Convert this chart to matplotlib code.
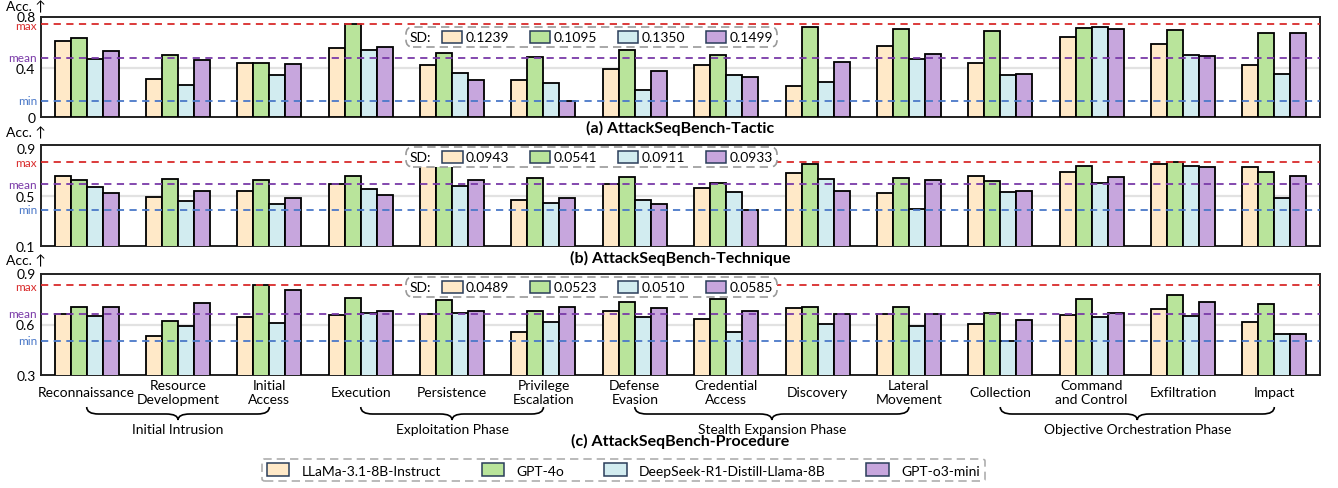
import numpy as np
import matplotlib
matplotlib.use("Agg")
import matplotlib.pyplot as plt
from matplotlib.patches import Patch, Rectangle, PathPatch
from matplotlib.path import Path
from matplotlib.offsetbox import AnchoredOffsetbox, HPacker, TextArea, DrawingArea
import matplotlib.transforms as mtransforms

plt.rcParams['font.family'] = ['Lato', 'DejaVu Sans']

# ---------------- data ----------------
categories = ["Reconnaissance", "Resource\nDevelopment", "Initial\nAccess", "Execution",
              "Persistence", "Privilege\nEscalation", "Defense\nEvasion", "Credential\nAccess",
              "Discovery", "Lateral\nMovement", "Collection", "Command\nand Control",
              "Exfiltration", "Impact"]
models = ["LLaMa-3.1-8B-Instruct", "GPT-4o", "DeepSeek-R1-Distill-Llama-8B", "GPT-o3-mini"]
colors = ["#FFE9C8", "#B9E49B", "#D2ECF0", "#C7A6DD"]

phases = ["Initial Intrusion", "Exploitation Phase", "Stealth Expansion Phase",
          "Objective Orchestration Phase"]
phase_start = [0, 3, 6, 10]
phase_end = [2, 5, 9, 13]

tactic_llama = [0.623, 0.308, 0.443, 0.563, 0.427, 0.302, 0.389, 0.422, 0.253, 0.582, 0.443, 0.650, 0.598, 0.422]
tactic_gpt4o = [0.645, 0.503, 0.438, 0.759, 0.522, 0.492, 0.547, 0.503, 0.732, 0.721, 0.704, 0.724, 0.710, 0.685]
tactic_deepseek = [0.471, 0.264, 0.345, 0.549, 0.362, 0.275, 0.218, 0.340, 0.286, 0.471, 0.340, 0.732, 0.508, 0.353]
tactic_o3 = [0.536, 0.465, 0.430, 0.569, 0.302, 0.131, 0.373, 0.329, 0.451, 0.514, 0.351, 0.716, 0.495, 0.685]
tactic_sd = ["0.1239", "0.1095", "0.1350", "0.1499"]

tech_llama = [0.655, 0.487, 0.535, 0.588, 0.760, 0.466, 0.588, 0.562, 0.682, 0.516, 0.652, 0.687, 0.748, 0.722]
tech_gpt4o = [0.620, 0.634, 0.626, 0.655, 0.745, 0.642, 0.650, 0.599, 0.751, 0.642, 0.612, 0.730, 0.764, 0.687]
tech_deepseek = [0.564, 0.460, 0.436, 0.554, 0.575, 0.442, 0.463, 0.524, 0.628, 0.394, 0.524, 0.602, 0.735, 0.479]
tech_o3 = [0.521, 0.538, 0.484, 0.506, 0.620, 0.484, 0.431, 0.386, 0.538, 0.623, 0.532, 0.644, 0.722, 0.652]
tech_sd = ["0.0943", "0.0541", "0.0911", "0.0933"]

proc_llama = [0.664, 0.532, 0.647, 0.656, 0.665, 0.556, 0.681, 0.634, 0.698, 0.664, 0.602, 0.659, 0.692, 0.616]
proc_gpt4o = [0.703, 0.618, 0.835, 0.759, 0.747, 0.683, 0.731, 0.753, 0.705, 0.703, 0.671, 0.751, 0.777, 0.719]
proc_deepseek = [0.652, 0.594, 0.606, 0.670, 0.671, 0.612, 0.646, 0.554, 0.602, 0.592, 0.504, 0.647, 0.653, 0.543]
proc_o3 = [0.703, 0.725, 0.807, 0.683, 0.683, 0.701, 0.698, 0.683, 0.665, 0.664, 0.626, 0.671, 0.733, 0.543]
proc_sd = ["0.0489", "0.0523", "0.0510", "0.0585"]

# ---------------- layout ----------------
W, H = 1338, 489
fig = plt.figure(figsize=(W / 100, H / 100), dpi=100)

def fx(px):
    return px / W

def fy(py):
    return 1 - py / H

AX_L, AX_R = 41, 1320
panels = [
    dict(data=[tactic_llama, tactic_gpt4o, tactic_deepseek, tactic_o3], sd=tactic_sd,
         ylim=(0, 0.815), yticks=[0, 0.4, 0.8], yticklabels=["0", "0.4", "0.8"],
         top=18, bottom=118, title="(a) AttackSeqBench-Tactic", title_y=128, acc_y=7,
         sd_top=28, top_shift=3, max_shift=-2),
    dict(data=[tech_llama, tech_gpt4o, tech_deepseek, tech_o3], sd=tech_sd,
         ylim=(0.1, 0.9), yticks=[0.1, 0.5, 0.9], yticklabels=["0.1", "0.5", "0.9"],
         top=146, bottom=247, title="(b) AttackSeqBench-Technique", title_y=258, acc_y=133,
         sd_top=148, top_shift=-3, max_shift=0),
    dict(data=[proc_llama, proc_gpt4o, proc_deepseek, proc_o3], sd=proc_sd,
         ylim=(0.3, 0.9), yticks=[0.3, 0.6, 0.9], yticklabels=["0.3", "0.6", "0.9"],
         top=275, bottom=376, title="(c) AttackSeqBench-Procedure", title_y=441, acc_y=261,
         sd_top=278, top_shift=1, max_shift=-2),
]

x = np.arange(len(categories))
bw = 0.175
offsets = (np.arange(4) - 1.5) * bw

axes = []
for p in panels:
    ax = fig.add_axes([fx(AX_L), fy(p["bottom"]), fx(AX_R) - fx(AX_L),
                       (p["bottom"] - p["top"]) / H])
    axes.append(ax)
    for vals, c, off in zip(p["data"], colors, offsets):
        ax.bar(x + off, vals, width=bw, color=c, edgecolor="black", linewidth=1.3, zorder=3)
    ax.set_xlim(-0.5, len(categories) - 0.5)
    ax.set_ylim(*p["ylim"])
    ax.set_yticks(p["yticks"])
    ax.set_yticklabels(p["yticklabels"], fontsize=10)
    ax.tick_params(axis="y", length=0, pad=4)
    ax.tick_params(axis="x", length=0)
    ax.set_xticks(x)
    ax.set_xticklabels([])
    top_lab = ax.get_yticklabels()[-1]
    top_lab.set_transform(top_lab.get_transform() +
                          mtransforms.ScaledTranslation(0, p["top_shift"] / 100, fig.dpi_scale_trans))
    for s in ax.spines.values():
        s.set_linewidth(1.4)
        s.set_color("#222222")
    ax.axhline(p["yticks"][1], color="#e2e2e2", lw=1.6, zorder=1)

    allv = np.concatenate([np.asarray(v) for v in p["data"]])
    stats = [(allv.max(), "max", "#d92b2b"), (allv.mean(), "mean", "#7a3aa8"),
             (allv.min(), "min", "#4a78c8")]
    ytr = ax.get_yaxis_transform()
    for val, lab, col in stats:
        ax.axhline(val, color=col, ls=(0, (4, 3)), lw=1.3, zorder=4)
        t = ax.text(-0.003, val, lab, transform=ytr, ha="right", va="center",
                    color=col, fontsize=8.5)
        if lab == "max" and p["max_shift"] != 0:
            t.set_transform(ytr + mtransforms.ScaledTranslation(0, p["max_shift"] / 100,
                                                                fig.dpi_scale_trans))

    # SD box
    items = []
    for c, s in zip(colors, p["sd"]):
        da = DrawingArea(14.5, 8.6, 0, 0)
        da.add_artist(Rectangle((0, 0), 14.5, 8.6, facecolor=c, edgecolor="#2a3d5a", lw=1.1))
        items.append(HPacker(children=[da, TextArea(s, textprops=dict(fontsize=10))],
                             sep=2.5, align="center"))
    inner = HPacker(children=items, sep=15, align="center")
    box = HPacker(children=[TextArea("SD:", textprops=dict(fontsize=10)), inner],
                  sep=8, align="center")
    yanch = (p["bottom"] - p["sd_top"]) / (p["bottom"] - p["top"])
    ao = AnchoredOffsetbox(loc="upper center", child=box, pad=0.3, borderpad=0,
                           frameon=True, bbox_to_anchor=((591.5 - AX_L) / (AX_R - AX_L), yanch),
                           bbox_transform=ax.transAxes, prop=dict(size=10))
    ao.patch.set_boxstyle("round,pad=0,rounding_size=0.5")
    ao.patch.set_edgecolor("#9a9a9a")
    ao.patch.set_linestyle((0, (5, 3)))
    ao.patch.set_linewidth(1.2)
    ao.zorder = 6
    ax.add_artist(ao)

    fig.text((fx(AX_L) + fx(AX_R)) / 2, fy(p["title_y"]), p["title"], ha="center",
             va="center", fontsize=11.5, fontweight="bold")
    fig.text(fx(6), fy(p["acc_y"]), "Acc. ↑", ha="left", va="center", fontsize=10)

# x labels on bottom panel
axc = axes[2]
axc.set_xticklabels(categories, fontsize=10, linespacing=1.2)
for t in axc.get_xticklabels():
    t.set_va("center")
axc.tick_params(axis="x", pad=12)

# braces + phase labels
btr = mtransforms.blended_transform_factory(axc.transData, fig.transFigure)
d = 0.13
ytop, ymid, ytip = fy(408), fy(415), fy(421)
for name, s, e in zip(phases, phase_start, phase_end):
    x0, x1 = s, e
    xc = (x0 + x1) / 2
    verts = [(x0, ytop), (x0, ymid), (x0 + d, ymid), (xc - d, ymid), (xc, ymid), (xc, ytip),
             (xc, ymid), (xc + d, ymid), (x1 - d, ymid), (x1, ymid), (x1, ytop)]
    codes = [Path.MOVETO, Path.CURVE3, Path.CURVE3, Path.LINETO, Path.CURVE3, Path.CURVE3,
             Path.CURVE3, Path.CURVE3, Path.LINETO, Path.CURVE3, Path.CURVE3]
    fig.add_artist(PathPatch(Path(verts, codes), transform=btr, fill=False,
                             edgecolor="black", lw=1.2, clip_on=False))
    fig.text(xc, fy(430), name, transform=btr, ha="center", va="center", fontsize=10)

# bottom legend
handles = [Patch(facecolor=c, edgecolor="#2a3d5a", lw=1.1) for c in colors]
leg = fig.legend(handles, models, loc="center", bbox_to_anchor=(fx(623.5), fy(471)),
                 ncol=4, fontsize=10, handlelength=1.6, handleheight=1.05,
                 handletextpad=0.9, columnspacing=2.9, borderpad=0.35, frameon=True)
fr = leg.get_frame()
fr.set_edgecolor("#9a9a9a")
fr.set_linestyle((0, (5, 3)))
fr.set_linewidth(1.2)

fig.savefig("out.png", dpi=100)
